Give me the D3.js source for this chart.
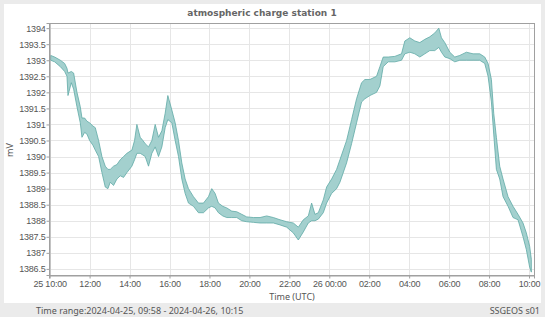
<!DOCTYPE html>
<html>
<head>
<meta charset="utf-8">
<script src="https://cdn.jsdelivr.net/npm/d3@7"></script>
<style>
  body { margin: 0; background: #ebebeb; }
  svg { display: block; }
</style>
</head>
<body>
<div class="svg-container"></div>
<script>
    // readings, 2024-04-25 10:00 .. 2024-04-26 10:15 (UTC), min / max per time slot
    const times = [
      "25 10:03","25 10:15","25 10:32","25 10:45","25 10:52","25 10:55","25 11:05","25 11:12","25 11:22","25 11:32",
      "25 11:37","25 11:45","25 11:52","25 12:00","25 12:10","25 12:17","25 12:27","25 12:37","25 12:47","25 12:55",
      "25 13:02","25 13:12","25 13:22","25 13:32","25 13:42","25 13:52","25 14:07","25 14:15","25 14:22","25 14:32",
      "25 14:40","25 14:47","25 14:57","25 15:07","25 15:17","25 15:27","25 15:37","25 15:47","25 15:55","25 16:07",
      "25 16:17","25 16:27","25 16:37","25 16:47","25 16:57","25 17:12","25 17:27","25 17:42","25 17:57","25 18:07",
      "25 18:17","25 18:27","25 18:40","25 18:52","25 19:07","25 19:22","25 19:37","25 19:52","25 20:12","25 20:32",
      "25 20:52","25 21:12","25 21:32","25 21:52","25 22:12","25 22:27","25 22:42","25 22:57","25 23:07","25 23:17",
      "25 23:27","25 23:42","25 23:52","26 00:07","26 00:22","26 00:32","26 00:52","26 01:07","26 01:22","26 01:37",
      "26 01:47","26 02:02","26 02:22","26 02:32","26 02:42","26 02:57","26 03:17","26 03:37","26 03:47","26 04:02",
      "26 04:17","26 04:32","26 04:47","26 05:02","26 05:17","26 05:29","26 05:37","26 05:47","26 06:02","26 06:17",
      "26 06:32","26 06:52","26 07:12","26 07:32","26 07:47","26 07:57","26 08:07","26 08:14","26 08:22","26 08:32",
      "26 08:42","26 08:57","26 09:12","26 09:27","26 09:42","26 09:52","26 10:02","26 10:07"
    ];
    const lo = [
      1393.0,1392.95,1392.8,1392.65,1392.5,1391.9,1392.3,1392.1,1391.55,1391.05,
      1390.6,1390.75,1390.7,1390.5,1390.35,1390.2,1390.0,1389.5,1389.05,1389.0,
      1389.2,1389.1,1389.3,1389.4,1389.35,1389.5,1389.7,1389.9,1390.1,1390.1,
      1390.05,1390.0,1389.7,1390.1,1390.3,1390.0,1390.3,1390.9,1391.15,1391.05,
      1390.5,1390.0,1389.3,1388.85,1388.55,1388.45,1388.25,1388.25,1388.4,1388.45,
      1388.4,1388.25,1388.15,1388.1,1388.1,1388.1,1388.0,1387.97,1387.95,1387.93,
      1387.93,1387.93,1387.87,1387.8,1387.62,1387.4,1387.65,1387.93,1388.0,1388.0,
      1388.05,1388.25,1388.55,1388.85,1389.0,1389.2,1389.8,1390.4,1391.05,1391.7,
      1391.8,1391.9,1392.0,1392.2,1392.8,1392.95,1392.95,1393.0,1393.2,1393.25,
      1393.2,1393.1,1393.2,1393.3,1393.3,1393.4,1393.25,1393.1,1393.05,1392.95,
      1393.0,1393.0,1393.0,1393.0,1392.9,1392.5,1391.7,1390.7,1389.6,1389.3,
      1388.75,1388.45,1388.1,1388.03,1387.5,1387.1,1386.55,1386.4
    ];
    const hi = [
      1393.15,1393.1,1393.0,1392.9,1392.75,1392.6,1392.65,1392.6,1392.0,1391.55,
      1391.2,1391.2,1391.1,1391.05,1390.95,1390.9,1390.5,1390.0,1389.7,1389.6,
      1389.6,1389.7,1389.75,1389.9,1390.0,1390.1,1390.2,1390.5,1391.0,1390.6,
      1390.5,1390.4,1390.3,1390.5,1391.0,1390.6,1390.8,1391.35,1391.9,1391.45,
      1391.05,1390.5,1389.8,1389.3,1389.0,1388.75,1388.55,1388.55,1388.75,1389.0,
      1388.85,1388.55,1388.45,1388.4,1388.3,1388.28,1388.2,1388.12,1388.1,1388.1,
      1388.15,1388.1,1388.03,1387.97,1387.93,1387.8,1388.03,1388.15,1388.55,1388.2,
      1388.25,1388.65,1389.05,1389.3,1389.6,1389.9,1390.5,1391.15,1391.8,1392.3,
      1392.4,1392.4,1392.5,1392.8,1393.1,1393.1,1393.12,1393.2,1393.6,1393.7,
      1393.6,1393.55,1393.65,1393.73,1393.85,1394.0,1393.7,1393.55,1393.25,1393.1,
      1393.15,1393.25,1393.2,1393.2,1393.1,1392.9,1392.4,1391.35,1390.6,1389.7,
      1389.3,1388.75,1388.45,1388.2,1387.93,1387.62,1387.2,1386.8
    ];
    const y_ticks = [1386.5,1387,1387.5,1388,1388.5,1389,1389.5,1390,1390.5,1391,1391.5,1392,1392.5,1393,1393.5,1394];
    const x_range = ["25 09:58", "26 10:15"];

    const chart_width = 545;
    const chart_height = 317;
    const margin = {left: 49, right: 11, top: 23, bottom: 42};

    const utc_parse = d3.utcParse("%Y-%m-%d %H:%M");
    const parse_time = s => utc_parse("2024-04-" + s);
    const readings = times.map((t, i) => ({t: parse_time(t), lo: lo[i], hi: hi[i]}));

    const chart_svg = d3.select('.svg-container').append('svg')
      .attr('width', chart_width).attr('height', chart_height)
      .style("font-family", "'Noto Sans', sans-serif");

    // white panel above the grey footer
    chart_svg.append('rect').attr('x', 4).attr('y', 4).attr('width', 537).attr('height', 299)
      .attr('fill', '#fff');

    const x_scale = d3.scaleUtc()
      .domain(x_range.map(parse_time))
      .range([margin.left, chart_width - margin.right]);
    const y_scale = d3.scaleLinear()
      .domain([1386.31, 1394.16])
      .range([chart_height - margin.bottom, margin.top]);

    const x_ticks = d3.utcHour.every(2).range(parse_time("25 10:00"), parse_time("26 10:01"));
    const fmt_day = d3.utcFormat("%d %H:%M"), fmt_hour = d3.utcFormat("%H:%M");
    const x_format = (d, i) => (i === 0 || d.getUTCHours() === 0) ? fmt_day(d) : fmt_hour(d);

    // grid
    const g_grid = chart_svg.append('g').attr('stroke', '#e6e6e6').attr('stroke-width', 1);
    g_grid.selectAll('.vx').data(x_ticks).enter().append('line')
      .attr('x1', d => Math.round(x_scale(d)) + 0.5).attr('x2', d => Math.round(x_scale(d)) + 0.5)
      .attr('y1', margin.top).attr('y2', chart_height - margin.bottom);
    g_grid.selectAll('.hy').data(y_ticks).enter().append('line')
      .attr('y1', d => Math.round(y_scale(d)) + 0.5).attr('y2', d => Math.round(y_scale(d)) + 0.5)
      .attr('x1', margin.left).attr('x2', chart_width - margin.right);

    // data band (min..max of the readings)
    const band = d3.area()
      .x(d => x_scale(d.t))
      .y0(d => y_scale(d.lo))
      .y1(d => y_scale(d.hi));
    chart_svg.append('path')
      .datum(readings)
      .attr('d', band)
      .attr('fill', '#a3d0ce')
      .attr('stroke', '#5fa9a6')
      .attr('stroke-width', 0.8)
      .attr('stroke-linejoin', 'round');

    // frame
    chart_svg.append('rect')
      .attr('x', margin.left + 0.5).attr('y', margin.top + 0.5)
      .attr('width', chart_width - margin.left - margin.right)
      .attr('height', chart_height - margin.top - margin.bottom)
      .attr('fill', 'none').attr('stroke', '#a0a0a0');

    // axes
    const y_axis = d3.axisLeft(y_scale).tickValues(y_ticks).tickSize(3).tickPadding(1)
      .tickFormat(d => d % 1 ? d.toFixed(1) : d.toFixed(0));
    const g_y = chart_svg.append('g')
      .attr('transform', `translate(${margin.left + 0.5},0)`)
      .call(y_axis);
    const x_axis = d3.axisBottom(x_scale).tickValues(x_ticks).tickSize(3).tickPadding(2)
      .tickFormat(x_format);
    const g_x = chart_svg.append('g')
      .attr('transform', `translate(0,${chart_height - margin.bottom + 0.5})`)
      .call(x_axis);
    [g_x, g_y].forEach(g => {
      g.select('.domain').attr('stroke', '#a0a0a0');
      g.selectAll('.tick line').attr('stroke', '#a0a0a0');
      g.selectAll('.tick text').attr('fill', '#555').style('font-size', '9px')
        .style('letter-spacing', '-0.2px').style('font-family', null);
    });

    // titles
    chart_svg.append('text')
      .attr('x', 262).attr('y', 15.5).attr('text-anchor', 'middle')
      .style('font-family', "'DejaVu Sans', sans-serif").style('font-weight', 'bold').style('font-size', '9px')
      .attr('fill', '#666')
      .text("atmospheric charge station 1");
    chart_svg.append('text')
      .attr('transform', 'translate(13,150) rotate(-90)').attr('text-anchor', 'middle')
      .style('font-size', '9px').attr('fill', '#555')
      .text("mV");
    chart_svg.append('text')
      .attr('x', 292).attr('y', 300).attr('text-anchor', 'middle')
      .style('font-size', '9px').attr('fill', '#555')
      .text("Time (UTC)");

    // footer
    chart_svg.append('text')
      .attr('x', 36).attr('y', 314)
      .style('font-size', '9px').attr('fill', '#555')
      .text("Time range:2024-04-25, 09:58 - 2024-04-26, 10:15");
    chart_svg.append('text')
      .attr('x', 540).attr('y', 314).attr('text-anchor', 'end')
      .style('font-size', '9px').attr('fill', '#555')
      .text("SSGEOS s01");
</script>
</body>
</html>
